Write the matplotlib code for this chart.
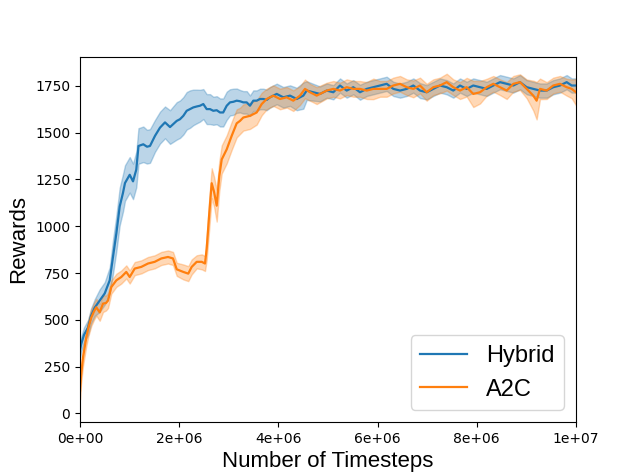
import numpy as np
import matplotlib
matplotlib.use("Agg")
import matplotlib.pyplot as plt

# timesteps in millions
hybrid_x = [0.000, 0.026, 0.081, 0.161, 0.222, 0.296, 0.397, 0.498, 0.599, 0.665,
            0.732, 0.800, 0.867, 0.907, 1.002, 1.069, 1.135, 1.179, 1.276, 1.351,
            1.411, 1.512, 1.613, 1.714, 1.815, 1.950, 2.016, 2.083, 2.151, 2.218,
            2.284, 2.353, 2.419, 2.486, 2.554, 2.621, 2.687, 2.756, 2.823, 2.887,
            2.958, 3.024, 3.091, 3.159, 3.226, 3.292, 3.361, 3.427, 3.494, 3.562,
            3.629, 3.696, 3.764, 3.831, 3.966, 4.099, 4.234, 4.369, 4.502, 4.571,
            4.704, 4.839, 4.974, 5.107, 5.242, 5.377, 5.510, 5.645, 5.780, 5.913,
            6.048, 6.183, 6.317, 6.452, 6.587, 6.720, 6.855, 6.990, 7.123, 7.258,
            7.393, 7.526, 7.661, 7.796, 7.929, 8.065, 8.200, 8.333, 8.468, 8.603,
            8.736, 8.871, 9.006, 9.139, 9.274, 9.409, 9.542, 9.677, 9.812, 9.913,
            10.0]
hybrid_mean = [340, 372, 420, 458, 520, 565, 603, 641, 711, 836,
               960, 1105, 1179, 1231, 1275, 1240, 1303, 1429, 1438, 1425,
               1429, 1483, 1527, 1555, 1530, 1563, 1572, 1590, 1617, 1626,
               1635, 1640, 1644, 1653, 1626, 1626, 1617, 1620, 1608, 1608,
               1644, 1662, 1665, 1671, 1668, 1662, 1662, 1644, 1671, 1671,
               1680, 1680, 1675, 1689, 1707, 1689, 1698, 1680, 1698, 1725,
               1716, 1707, 1725, 1716, 1752, 1725, 1743, 1716, 1734, 1743,
               1752, 1761, 1734, 1725, 1734, 1752, 1725, 1716, 1734, 1752,
               1743, 1725, 1752, 1734, 1752, 1743, 1734, 1752, 1770, 1761,
               1752, 1770, 1743, 1734, 1725, 1725, 1743, 1752, 1770, 1752,
               1752]
hybrid_spread = [40, 40, 40, 40, 40, 45, 60, 60, 70, 90,
                 95, 100, 100, 95, 95, 95, 95, 95, 95, 90,
                 90, 85, 85, 85, 90, 100, 100, 100, 100, 100,
                 95, 90, 85, 80, 80, 80, 75, 75, 75, 75,
                 75, 70, 70, 65, 60, 60, 60, 55, 55, 55,
                 55, 55, 55, 55, 55, 55, 55, 60, 70, 50,
                 45, 40, 38, 38, 38, 38, 38, 40, 38, 38,
                 38, 38, 38, 38, 38, 38, 40, 38, 38, 38,
                 38, 38, 38, 38, 38, 38, 38, 38, 38, 38,
                 38, 38, 38, 38, 38, 38, 38, 38, 38, 38,
                 38]

a2c_x = [0.000, 0.020, 0.060, 0.127, 0.171, 0.228, 0.282, 0.329, 0.397, 0.464,
         0.524, 0.565, 0.631, 0.732, 0.833, 0.933, 1.002, 1.103, 1.236, 1.371,
         1.506, 1.639, 1.774, 1.875, 1.950, 2.083, 2.183, 2.252, 2.353, 2.454,
         2.520, 2.554, 2.607, 2.655, 2.702, 2.756, 2.808, 2.857, 2.958, 3.058,
         3.159, 3.226, 3.292, 3.427, 3.562, 3.663, 3.764, 3.897, 4.032, 4.167,
         4.300, 4.435, 4.536, 4.637, 4.772, 4.974, 5.107, 5.242, 5.377, 5.510,
         5.645, 5.780, 5.913, 6.048, 6.183, 6.317, 6.452, 6.587, 6.720, 6.855,
         6.990, 7.123, 7.258, 7.393, 7.526, 7.661, 7.796, 7.929, 8.065, 8.200,
         8.333, 8.468, 8.603, 8.736, 8.871, 9.006, 9.139, 9.206, 9.274, 9.409,
         9.542, 9.677, 9.812, 9.913, 10.0]
a2c_mean = [120, 200, 298, 406, 460, 513, 545, 567, 540, 587,
            590, 603, 675, 711, 729, 756, 729, 774, 783, 801,
            810, 828, 836, 828, 770, 756, 747, 783, 810, 810,
            801, 880, 1071, 1230, 1185, 1110, 1267, 1357, 1411, 1483,
            1550, 1563, 1581, 1590, 1608, 1653, 1680, 1698, 1680, 1689,
            1671, 1698, 1734, 1716, 1698, 1725, 1734, 1725, 1743, 1734,
            1734, 1725, 1734, 1734, 1734, 1752, 1761, 1743, 1734, 1752,
            1716, 1743, 1752, 1770, 1743, 1725, 1743, 1707, 1716, 1743,
            1761, 1743, 1725, 1761, 1770, 1734, 1698, 1671, 1734, 1725,
            1752, 1761, 1743, 1734, 1716]
a2c_spread = [45, 45, 45, 45, 45, 45, 45, 45, 45, 45,
              40, 40, 35, 35, 35, 35, 35, 35, 35, 35,
              35, 35, 35, 35, 35, 40, 40, 40, 35, 40,
              40, 60, 80, 80, 80, 85, 80, 75, 75, 75,
              75, 70, 70, 70, 65, 60, 55, 55, 55, 55,
              55, 50, 50, 45, 45, 42, 42, 42, 42, 42,
              42, 45, 55, 42, 42, 42, 42, 42, 45, 42,
              45, 42, 42, 45, 42, 45, 50, 70, 60, 45,
              42, 42, 45, 42, 42, 50, 80, 100, 55, 45,
              42, 42, 45, 50, 70]


def main():
    plt.rcParams["font.size"] = 10
    fig, ax = plt.subplots(figsize=(6.4, 4.74), dpi=100)

    hx = np.array(hybrid_x) * 1e6
    hm = np.array(hybrid_mean, dtype=float)
    hs = np.array(hybrid_spread, dtype=float)
    ax.plot(hx, hm, color="C0", lw=1.6, label="Hybrid")
    ax.fill_between(hx, hm - hs, hm + hs, color="C0", alpha=0.3)

    ax_ = np.array(a2c_x) * 1e6
    am = np.array(a2c_mean, dtype=float)
    asp = np.array(a2c_spread, dtype=float)
    ax.plot(ax_, am, color="C1", lw=1.6, label="A2C")
    ax.fill_between(ax_, am - asp, am + asp, color="C1", alpha=0.3)

    ax.set_xlim(0, 1e7)
    ax.set_ylim(-45, 1905)
    ax.set_xticks([0, 2e6, 4e6, 6e6, 8e6, 1e7])
    ax.set_xticklabels(["0e+00", "2e+06", "4e+06", "6e+06", "8e+06", "1e+07"])
    ax.set_yticks([0, 250, 500, 750, 1000, 1250, 1500, 1750])

    ax.set_xlabel("Number of Timesteps", fontsize=16, family="Liberation Sans")
    ax.set_ylabel("Rewards", fontsize=16, family="Liberation Sans")
    ax.legend(loc="lower right", prop={"family": "Liberation Sans", "size": 17})

    fig.savefig("out.png", dpi=100)


if __name__ == "__main__":
    main()
